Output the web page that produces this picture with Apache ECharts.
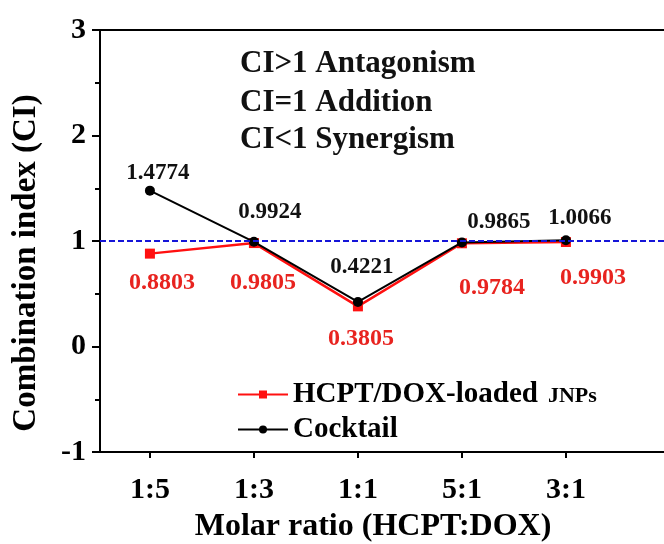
<!DOCTYPE html>
<html>
<head>
<meta charset="utf-8">
<script src="https://cdn.jsdelivr.net/npm/echarts@6/dist/echarts.min.js"></script>
<style>
  html, body { margin: 0; padding: 0; background: #fff; }
  #chart { width: 664px; height: 544px; }
</style>
</head>
<body>
<div id="chart"></div>
<script>
// Molar ratios (HCPT:DOX) on the x axis
const ratios = ['1:5', '1:3', '1:1', '5:1', '3:1'];
// Combination index values
const jnpValues = [0.8803, 0.9805, 0.3805, 0.9784, 0.9903];
const cocktailValues = [1.4774, 0.9924, 0.4221, 0.9865, 1.0066];
const yTicks = [-1, 0, 1, 2, 3];
const notes = ['CI>1 Antagonism', 'CI=1 Addition', 'CI<1 Synergism'];

const SERIF = '"Liberation Serif", "DejaVu Serif", serif';

// label offsets from each marker centre, in pixels
const jnpLabelShift = [[12, 29], [9, 40], [3, 32], [30, 45], [27, 36]];
const cocktailLabelShift = [[8, -18], [16, -30], [4, -35], [37, -20], [14, -22]];

function points(values, shifts, color, size) {
  return values.map((v, i) => ({
    value: [i, v],
    label: {
      show: true,
      position: 'inside',
      align: 'center',
      verticalAlign: 'middle',
      offset: shifts[i],
      formatter: v.toFixed(4),
      color: color,
      fontFamily: SERIF,
      fontWeight: 'bold',
      fontSize: size
    }
  }));
}

const chart = echarts.init(document.getElementById('chart'), null, { renderer: 'canvas' });

chart.setOption({
  backgroundColor: '#fff',
  animation: false,
  // the frame runs on past the right edge of the canvas
  grid: {
    left: 100, top: 30, bottom: 92, width: 624,
    outerBoundsMode: 'none',
    containLabel: false,
    show: true, borderColor: '#000', borderWidth: 2, backgroundColor: 'transparent'
  },
  xAxis: {
    type: 'value',
    min: -0.48,
    max: 5.52,
    name: 'Molar ratio (HCPT:DOX)',
    nameLocation: 'middle',
    nameGap: 59,
    nameTextStyle: {
      fontFamily: SERIF, fontWeight: 'bold', fontSize: 32, color: '#000',
      padding: [0, 78, 0, 0]
    },
    axisLine: { show: true, onZero: false, lineStyle: { color: '#000', width: 2 } },
    axisTick: {
      show: true, inside: false, length: 6,
      customValues: ratios.map((_, i) => i),
      lineStyle: { color: '#000', width: 2 }
    },
    axisLabel: {
      customValues: ratios.map((_, i) => i),
      formatter: v => ratios[Math.round(v)],
      margin: 23,
      fontFamily: SERIF, fontWeight: 'bold', fontSize: 30, color: '#000'
    },
    splitLine: { show: false }
  },
  yAxis: {
    type: 'value',
    min: yTicks[0],
    max: yTicks[yTicks.length - 1],
    interval: 1,
    name: 'Combination index (CI)',
    nameLocation: 'middle',
    nameGap: 57,
    nameTextStyle: {
      fontFamily: SERIF, fontWeight: 'bold', fontSize: 33, color: '#000',
      padding: [0, 44, 0, 0]
    },
    axisLine: { show: true, onZero: false, lineStyle: { color: '#000', width: 2 } },
    axisTick: { show: true, inside: false, length: 8, lineStyle: { color: '#000', width: 2 } },
    minorTick: { show: true, splitNumber: 2, length: 5, lineStyle: { color: '#000', width: 2 } },
    axisLabel: {
      margin: 14,
      fontFamily: SERIF, fontWeight: 'bold', fontSize: 30, color: '#000'
    },
    splitLine: { show: false }
  },
  legend: {
    orient: 'vertical',
    left: 232,
    top: 375,
    itemWidth: 50,
    itemHeight: 10,
    itemGap: 6,
    data: ['HCPT/DOX-loaded JNPs', 'Cocktail'],
    formatter: name => name === 'Cocktail'
      ? '{a|Cocktail}'
      : '{a|HCPT/DOX-loaded}   {b|JNPs}',
    textStyle: {
      color: '#000',
      rich: {
        a: { fontFamily: SERIF, fontWeight: 'bold', fontSize: 29, lineHeight: 30, color: '#000' },
        b: { fontFamily: SERIF, fontWeight: 'bold', fontSize: 22, lineHeight: 26, padding: [4, 0, 0, 0], color: '#000' }
      }
    }
  },
  graphic: notes.map((t, i) => ({
    type: 'text',
    left: 240,
    top: [48, 87, 124][i],
    style: {
      text: t,
      font: 'bold 31px ' + SERIF,
      fill: '#111'
    }
  })),
  series: [
    {
      name: 'HCPT/DOX-loaded JNPs',
      type: 'line',
      data: points(jnpValues, jnpLabelShift, '#e8231f', 24),
      symbol: 'rect',
      symbolSize: 10,
      itemStyle: { color: '#ff1010' },
      lineStyle: { color: '#ff1010', width: 2.5 },
      z: 3
    },
    {
      name: 'Cocktail',
      type: 'line',
      data: points(cocktailValues, cocktailLabelShift, '#111', 23),
      symbol: 'circle',
      symbolSize: 10,
      itemStyle: { color: '#000' },
      lineStyle: { color: '#000', width: 2 },
      z: 4,
      markLine: {
        silent: true,
        symbol: ['none', 'none'],
        label: { show: false },
        lineStyle: { color: '#1515d8', type: [6, 3], width: 2 },
        data: [{ yAxis: 1 }]
      }
    }
  ]
});
</script>
</body>
</html>
